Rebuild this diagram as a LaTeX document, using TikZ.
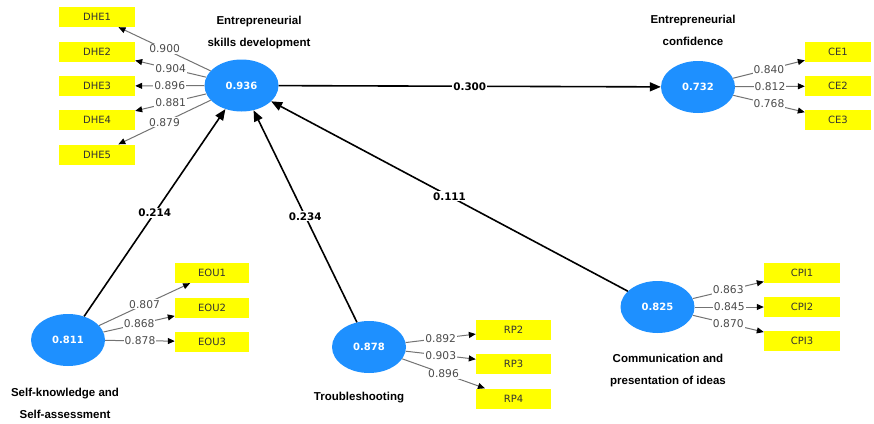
\documentclass[tikz,border=0pt]{standalone}
\usepackage{fontspec}
\setmainfont{DejaVu Sans}
\newfontfamily\titlefont{Liberation Sans}
\usepackage{xcolor}
\usetikzlibrary{shapes.geometric,arrows.meta,positioning}
\definecolor{lvblue}{RGB}{30,144,255}
\definecolor{indyellow}{RGB}{255,255,0}
\definecolor{loadgray}{RGB}{115,115,115}

\begin{document}
\begin{tikzpicture}[
    x=1pt, y=-1pt,
    latent/.style={ellipse, fill=lvblue, draw=none, minimum width=74pt, minimum height=52pt, inner sep=0pt, text=white, font=\fontsize{10}{12}\selectfont\bfseries},
    indic/.style={rectangle, fill=indyellow, minimum width=76pt, minimum height=20pt, inner sep=0pt, text=black!80, font=\fontsize{10}{12}\selectfont},
    lvtitle/.style={align=center, font=\titlefont\bfseries\fontsize{11.5}{22}\selectfont},
    structarrow/.style={-{Triangle[length=11pt, width=9pt]}, line width=1.6pt, draw=black},
    loadarrow/.style={-{Triangle[length=7pt, width=6pt, color=black]}, line width=1pt, draw=loadgray},
    coef/.style={fill=white, inner sep=1pt, font=\fontsize{10.4}{12}\selectfont\bfseries},
    wgt/.style={fill=white, inner sep=1pt, text=black!70, font=\fontsize{10.7}{12}\selectfont}
]
    \useasboundingbox (0,0) rectangle (874,423);

    % latent variables
    \node [latent] (esd) at (241.5,85.5) {0.936};
    \node [latent] (ec) at (698,87) {0.732};
    \node [latent] (sksa) at (68,340) {0.811};
    \node [latent] (ts) at (369,347) {0.878};
    \node [latent] (cpi) at (657.5,307) {0.825};

    % titles
    \node [lvtitle] (esdt) at (259,33) {Entrepreneurial\\skills development};
    \node [lvtitle] (ect) at (693,30.5) {Entrepreneurial\\confidence};
    \node [lvtitle] (sksat) at (65,403.5) {Self-knowledge and\\Self-assessment};
    \node [lvtitle] (tst) at (359,398) {Troubleshooting};
    \node [lvtitle] (cpit) at (668,370.5) {Communication and\\presentation of ideas};

    % indicators
    \node [indic] (dhe1) at (97,17) {DHE1};
    \node [indic] (dhe2) at (97,51.5) {DHE2};
    \node [indic] (dhe3) at (97,86) {DHE3};
    \node [indic] (dhe4) at (97,120) {DHE4};
    \node [indic] (dhe5) at (97,154.5) {DHE5};

    \node [indic, minimum width=66pt] (ce1) at (838,52) {CE1};
    \node [indic, minimum width=66pt] (ce2) at (838,86) {CE2};
    \node [indic, minimum width=66pt] (ce3) at (838,120) {CE3};

    \node [indic, minimum width=74pt] (eou1) at (212,273) {EOU1};
    \node [indic, minimum width=74pt] (eou2) at (212,307.5) {EOU2};
    \node [indic, minimum width=74pt] (eou3) at (212,341.5) {EOU3};

    \node [indic, minimum width=75pt] (rp2) at (513.5,329.5) {RP2};
    \node [indic, minimum width=75pt] (rp3) at (513.5,363.5) {RP3};
    \node [indic, minimum width=75pt] (rp4) at (513.5,398.5) {RP4};

    \node [indic] (cpi1) at (802,272.5) {CPI1};
    \node [indic] (cpi2) at (802,307) {CPI2};
    \node [indic] (cpi3) at (802,341) {CPI3};

    % structural paths
    \draw [structarrow] (esd) -- node [coef] {0.300} (ec);
    \draw [structarrow] (sksa) -- node [coef] {0.214} (esd);
    \draw [structarrow] (ts) -- node [coef] {0.234} (esd);
    \draw [structarrow] (cpi) -- node [coef] {0.111} (esd);

    % outer loadings
    \draw [loadarrow] (esd) -- node [wgt] {0.900} (dhe1);
    \draw [loadarrow] (esd) -- node [wgt] {0.904} (dhe2);
    \draw [loadarrow] (esd) -- node [wgt] {0.896} (dhe3);
    \draw [loadarrow] (esd) -- node [wgt] {0.881} (dhe4);
    \draw [loadarrow] (esd) -- node [wgt] {0.879} (dhe5);

    \draw [loadarrow] (ec) -- node [wgt] {0.840} (ce1);
    \draw [loadarrow] (ec) -- node [wgt] {0.812} (ce2);
    \draw [loadarrow] (ec) -- node [wgt] {0.768} (ce3);

    \draw [loadarrow] (sksa) -- node [wgt] {0.807} (eou1);
    \draw [loadarrow] (sksa) -- node [wgt] {0.868} (eou2);
    \draw [loadarrow] (sksa) -- node [wgt] {0.878} (eou3);

    \draw [loadarrow] (ts) -- node [wgt] {0.892} (rp2);
    \draw [loadarrow] (ts) -- node [wgt] {0.903} (rp3);
    \draw [loadarrow] (ts) -- node [wgt] {0.896} (rp4);

    \draw [loadarrow] (cpi) -- node [wgt] {0.863} (cpi1);
    \draw [loadarrow] (cpi) -- node [wgt] {0.845} (cpi2);
    \draw [loadarrow] (cpi) -- node [wgt] {0.870} (cpi3);
\end{tikzpicture}
\end{document}
